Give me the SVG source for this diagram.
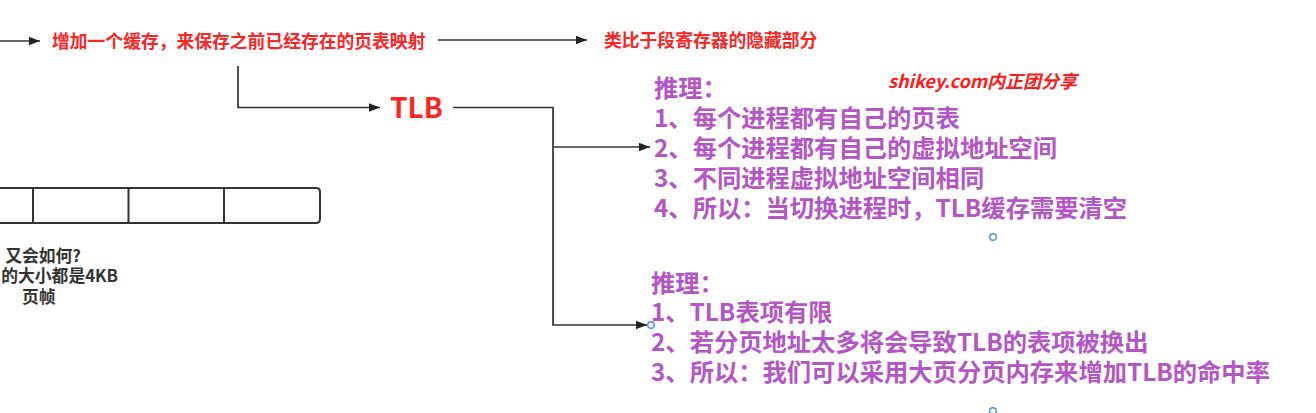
<svg xmlns="http://www.w3.org/2000/svg" width="1316" height="413" viewBox="0 0 1316 413">
<style>
text{font-family:"Noto Sans CJK SC","Noto Sans",sans-serif;font-weight:bold}
.red{fill:#ff2424;font-size:17.8px}
.pur{fill:#b455c6;font-size:24.3px}
.dk{fill:#333;font-size:16.8px}
.ln{fill:none;stroke:#333;stroke-width:1.7}
.hd{fill:#fff;stroke:#4a8fe0;stroke-width:1.4}
</style>
<defs>
<marker id="ah" markerWidth="12" markerHeight="10" refX="11" refY="5" orient="auto" markerUnits="userSpaceOnUse">
<path d="M0,0.8 L11,5 L0,9.2 Z" fill="#222"/>
</marker>
</defs>
<rect width="1316" height="413" fill="#fff"/>
<g id="connectors">
<path class="ln" d="M0,41 L40,41" marker-end="url(#ah)"/>
<path class="ln" d="M438,40 L587,40" marker-end="url(#ah)"/>
<path class="ln" d="M238,66 L238,107.5 L380,107.5" marker-end="url(#ah)"/>
<path class="ln" d="M453,107.5 L553,107.5 L553,325 L647,325" marker-end="url(#ah)"/>
<path class="ln" d="M553,147 L650,147" marker-end="url(#ah)"/>
</g>
<g id="frames">
<path d="M-5,188 L316,188 Q320,188 320,192 L320,219 Q320,223 316,223 L-5,223 Z" fill="#fff" stroke="#333" stroke-width="2"/>
<path d="M33,188 L33,223 M128.5,188 L128.5,223 M224,188 L224,223" stroke="#333" stroke-width="2"/>
</g>
<g id="note-left">
<text class="dk" x="81" y="262" text-anchor="end">又会如何?</text>
<text class="dk" x="118" y="282" text-anchor="end">的大小都是4KB</text>
<text class="dk" x="22" y="303">页帧</text>
</g>
<g id="cache">
<text class="red" x="52" y="47.5">增加一个缓存，来保存之前已经存在的页表映射</text>
</g>
<g id="analogy">
<text class="red" x="604" y="46.5">类比于段寄存器的隐藏部分</text>
</g>
<g id="tlb">
<text x="390" y="118" fill="#ff2424" font-size="28">TLB</text>
</g>
<g id="watermark">
<text x="888" y="88" fill="#ff1a1a" font-size="18" font-style="italic" font-weight="normal">shikey.com内正团分享</text>
</g>
<g id="reason1">
<text class="pur" x="654" y="97">推理：</text>
<text class="pur" x="654" y="127">1、每个进程都有自己的页表</text>
<text class="pur" x="654" y="157">2、每个进程都有自己的虚拟地址空间</text>
<text class="pur" x="654" y="187">3、不同进程虚拟地址空间相同</text>
<text class="pur" x="654" y="217">4、所以：当切换进程时，TLB缓存需要清空</text>
</g>
<g id="reason2">
<text class="pur" x="651" y="292">推理：</text>
<text class="pur" x="651" y="321">1、TLB表项有限</text>
<text class="pur" x="651" y="351">2、若分页地址太多将会导致TLB的表项被换出</text>
<text class="pur" x="651" y="381">3、所以：我们可以采用大页分页内存来增加TLB的命中率</text>
</g>
<g id="handles">
<circle class="hd" cx="993" cy="237" r="3.3"/>
<circle class="hd" cx="651" cy="325" r="3.3"/>
<circle class="hd" cx="993" cy="411" r="3.3"/>
</g>
</svg>
